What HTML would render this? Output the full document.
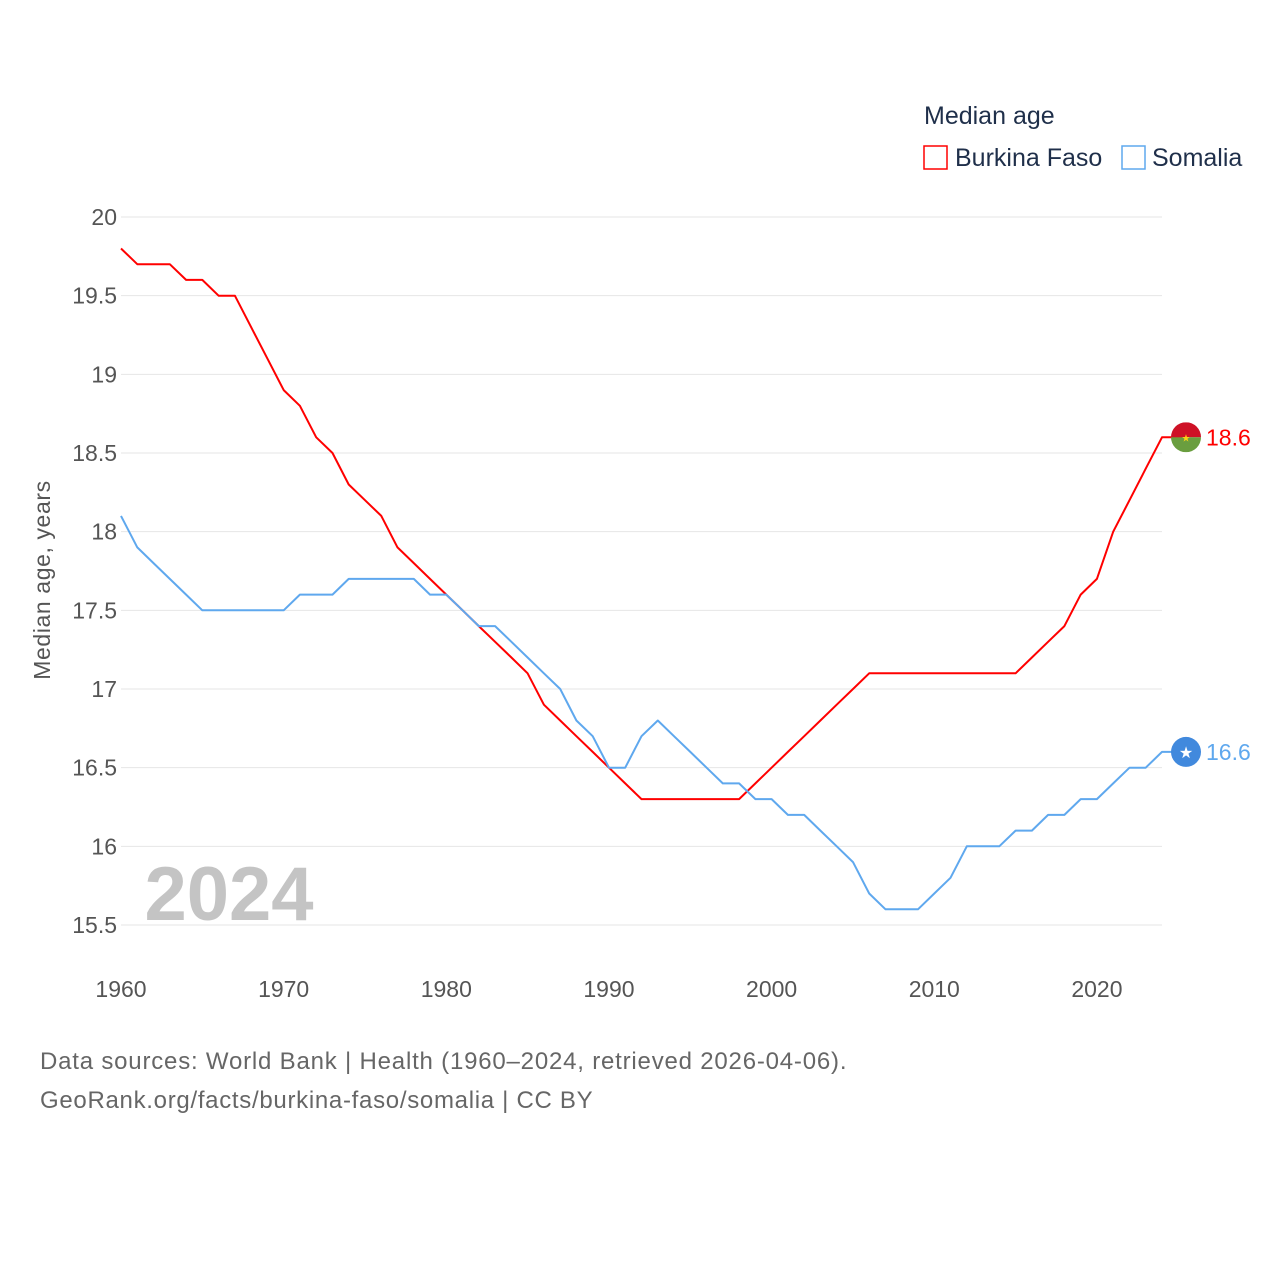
<!DOCTYPE html>
<html><head><meta charset="utf-8">
<style>
body{margin:0;background:#fff;}
svg{display:block;font-family:"Liberation Sans",sans-serif;}
</style></head>
<body>
<svg id="chart" width="1280" height="1280" viewBox="0 0 1280 1280">
<g id="grid"></g>
<g id="yticks"></g>
<g id="xticks"></g>
<text x="229" y="920" font-size="76" font-weight="bold" fill="#c4c4c4" text-anchor="middle">2024</text>
<g id="series"></g>
<text transform="translate(50,580) rotate(-90)" font-size="23" fill="#555" text-anchor="middle" letter-spacing="0.6">Median age, years</text>
<text x="924" y="124" font-size="25" fill="#1f2f4a">Median age</text>
<g>
<rect x="924" y="146" width="23" height="23" fill="#fff" stroke="#f00" stroke-width="1.5"/>
<text x="955" y="166" font-size="25" fill="#1f2f4a">Burkina Faso</text>
</g>
<g>
<rect x="1122" y="146" width="23" height="23" fill="#fff" stroke="#5fa8ee" stroke-width="1.5"/>
<text x="1152" y="166" font-size="25" fill="#1f2f4a">Somalia</text>
</g>
<text x="40" y="1069" font-size="24" fill="#666" letter-spacing="0.8">Data sources: World Bank | Health (1960–2024, retrieved 2026-04-06).</text>
<text x="40" y="1108" font-size="24" fill="#666" letter-spacing="0.7">GeoRank.org/facts/burkina-faso/somalia | CC BY</text>
</svg>
<script>
const years = [];
for (let y = 1960; y <= 2024; y++) years.push(y);
const burkinaFaso = [19.8,19.7,19.7,19.7,19.6,19.6,19.5,19.5,19.3,19.1,18.9,18.8,18.6,18.5,18.3,18.2,18.1,17.9,17.8,17.7,17.6,17.5,17.4,17.3,17.2,17.1,16.9,16.8,16.7,16.6,16.5,16.4,16.3,16.3,16.3,16.3,16.3,16.3,16.3,16.4,16.5,16.6,16.7,16.8,16.9,17.0,17.1,17.1,17.1,17.1,17.1,17.1,17.1,17.1,17.1,17.1,17.2,17.3,17.4,17.6,17.7,18.0,18.2,18.4,18.6];
const somalia = [18.1,17.9,17.8,17.7,17.6,17.5,17.5,17.5,17.5,17.5,17.5,17.6,17.6,17.6,17.7,17.7,17.7,17.7,17.7,17.6,17.6,17.5,17.4,17.4,17.3,17.2,17.1,17.0,16.8,16.7,16.5,16.5,16.7,16.8,16.7,16.6,16.5,16.4,16.4,16.3,16.3,16.2,16.2,16.1,16.0,15.9,15.7,15.6,15.6,15.6,15.7,15.8,16.0,16.0,16.0,16.1,16.1,16.2,16.2,16.3,16.3,16.4,16.5,16.5,16.6];
const yTickValues = [15.5,16,16.5,17,17.5,18,18.5,19,19.5,20];
const yTickLabels = ["15.5","16","16.5","17","17.5","18","18.5","19","19.5","20"];
const xTickValues = [1960,1970,1980,1990,2000,2010,2020];
const xTickLabels = ["1960","1970","1980","1990","2000","2010","2020"];

const NS = "http://www.w3.org/2000/svg";
const xs = v => 121 + (v - 1960) * (1162 - 121) / 64;
const ys = v => 925 - (v - 15.5) * (925 - 217) / 4.5;
function mk(tag, attrs, parent){const e=document.createElementNS(NS,tag);for(const k in attrs)e.setAttribute(k,attrs[k]);parent.appendChild(e);return e;}

const grid=document.getElementById('grid'), yt=document.getElementById('yticks'), xt=document.getElementById('xticks');
yTickValues.forEach((v,i)=>{
  const l=mk('line',{x1:121,x2:1162,y1:ys(v),y2:ys(v),stroke:'#e6e6e6','stroke-width':1},grid);
  
  
  const t=mk('text',{x:117,y:ys(v)+8,'font-size':23,fill:'#555','text-anchor':'end'},yt);
  t.textContent=yTickLabels[i];
  
  
});
xTickValues.forEach((v,i)=>{
  const t=mk('text',{x:xs(v),y:997,'font-size':23,fill:'#555','text-anchor':'middle'},xt);
  t.textContent=xTickLabels[i];
  
  
});

const series=document.getElementById('series');
function drawLine(vals,color,name){
  const pts=vals.map((v,i)=>xs(years[i]).toFixed(1)+','+ys(v).toFixed(1));
  const last=vals[vals.length-1];
  pts.push('1186,'+ys(last).toFixed(1));
  const p=mk('polyline',{points:pts.join(' '),fill:'none',stroke:color,'stroke-width':2,'stroke-linejoin':'round'},series);
  
  
  const lab=mk('text',{x:1206,y:ys(last)+8,'font-size':23,fill:color},series);
  lab.textContent=last.toFixed(1);
  
  
  return ys(last);
}
const yb=drawLine(burkinaFaso,'#f00','burkina-faso');
const ysm=drawLine(somalia,'#5fa8ee','somalia');

const fb=mk('g',{},series);


mk('clipPath',{id:'cb'},fb).appendChild(document.createElementNS(NS,'circle'));
const cbc=fb.querySelector('#cb circle');cbc.setAttribute('cx',1186);cbc.setAttribute('cy',yb);cbc.setAttribute('r',15);
mk('rect',{x:1171,y:yb-15,width:30,height:15,fill:'#ce1126','clip-path':'url(#cb)'},fb);
mk('rect',{x:1171,y:yb,width:30,height:15,fill:'#6a9e3f','clip-path':'url(#cb)'},fb);
mk('text',{x:1186,y:yb+4,'font-size':10,fill:'#fcd116','text-anchor':'middle'},fb).textContent='★';

const fs=mk('g',{},series);


mk('circle',{cx:1186,cy:ysm,r:15,fill:'#4189dd'},fs);
mk('text',{x:1186,y:ysm+6,'font-size':16,fill:'#fff','text-anchor':'middle'},fs).textContent='★';
</script>
</body></html>
